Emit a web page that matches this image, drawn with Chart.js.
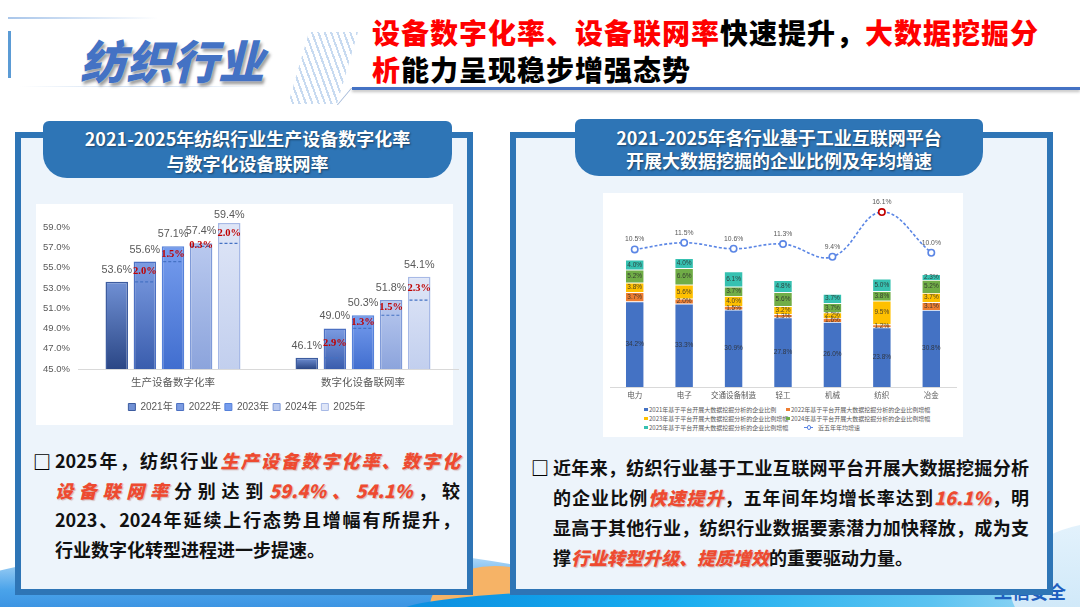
<!DOCTYPE html>
<html lang="zh-CN">
<head>
<meta charset="utf-8">
<title>纺织行业</title>
<script src="https://cdn.jsdelivr.net/npm/chart.js@4.4.1/dist/chart.umd.min.js"></script>
<style>
html,body{margin:0;padding:0;}
body{width:1080px;height:607px;overflow:hidden;position:relative;background:#fff;font-family:"Noto Sans CJK SC","Noto Sans",sans-serif;}
.abs{position:absolute;}
.title-big{font-size:46px;font-weight:900;font-style:italic;color:#4472c4;line-height:60px;white-space:nowrap;text-shadow:0 0 1px #fff,2px 3px 3px rgba(40,40,40,0.45);}
.hatch{background:repeating-linear-gradient(70deg,rgba(205,222,242,0) 0 4px,rgba(190,212,238,0.85) 4px 6px);clip-path:polygon(30% 0,100% 0,70% 100%,0 100%);}
.headline{font-size:28px;font-weight:900;line-height:37px;letter-spacing:1px;color:#000;white-space:nowrap;}
.headline .r{color:#ff0000;}
.panel{position:absolute;top:132px;height:463px;border:6px solid #2e75b6;box-sizing:border-box;background:#edf4fb;}
.tab{position:absolute;background:#2e75b6;border-radius:6px 6px 24px 24px;color:#fff;font-weight:700;font-size:18px;text-align:center;text-shadow:1px 1px 2px rgba(0,0,0,0.45);box-sizing:border-box;white-space:nowrap;}
.white{position:absolute;background:#fff;}
.bullet{position:absolute;font-size:18px;font-weight:700;color:#111;}
.bullet .ln{text-align:justify;text-align-last:justify;}
.bullet .last{text-align:left;text-align-last:left;}
.bullet .hl{color:#ee4a30;font-style:italic;font-weight:900;text-shadow:1px 1px 1px rgba(150,40,20,0.3);}
.box{position:absolute;font-size:18px;font-weight:900;color:#000;}
#rightLegend{position:absolute;left:644px;top:405px;width:310px;display:grid;grid-template-columns:142px auto;grid-auto-rows:9px;font-size:6px;color:#595959;line-height:9px;white-space:nowrap;}
.lg{display:flex;align-items:center;}
.mk-box{width:3.5px;height:3.5px;margin-right:1.5px;flex:none;}
.lg.line{padding-left:18px;}
.mk-line{width:9px;height:0;border-top:1px dashed #5b86e5;position:relative;margin-right:5px;flex:none;}
.mk-line::after{content:'';position:absolute;left:2.5px;top:-2.8px;width:2.6px;height:2.6px;border:1px solid #5b86e5;border-radius:50%;background:#fff;}
</style>
</head>
<body>

<!-- bottom background waves -->
<div class="abs" style="left:-90px;top:545px;width:720px;height:150px;border-radius:50%;background:linear-gradient(180deg,#d4ebfb 0%,#4aa3ea 30%,#1a6fd0 70%,#1560c4 100%);"></div>
<div class="abs" style="left:430px;top:566px;width:130px;height:80px;border-radius:50% 50% 0 0;background:#f6b366;"></div>
<div class="abs" style="left:400px;top:588px;width:760px;height:60px;border-radius:40% 40% 0 0;background:linear-gradient(90deg,#0c8ee0,#16acef 35%,#5cc3f1 70%,#c9e8f8);"></div>
<div class="abs" style="left:1010px;top:522px;width:200px;height:130px;border-radius:50%;background:linear-gradient(180deg,#e3f2fc,#c7e4f7);"></div>
<div class="abs" style="left:994px;top:581px;font-size:18px;font-weight:700;color:#1f5fbf;line-height:20px;">工信安全</div>

<!-- header -->
<div class="abs" style="left:8px;top:17px;width:150px;height:2px;background:linear-gradient(90deg,#a9c6ea,rgba(169,198,234,0));"></div>
<div class="abs" style="left:8px;top:31px;width:3px;height:47px;background:#5b9bd5;"></div>
<div class="abs" style="left:20px;top:86px;width:250px;height:1px;background:linear-gradient(90deg,rgba(190,210,235,0),#c5d8ef,rgba(190,210,235,0));"></div>
<div class="abs hatch" style="left:288px;top:32px;width:70px;height:72px;"></div>
<div class="abs title-big" style="left:80px;top:29px;">纺织行业</div>
<div class="abs" style="left:352px;top:87px;width:728px;height:3px;background:#4472c4;box-shadow:0 2px 3px rgba(0,0,0,0.25);"></div>
<div class="abs" style="left:344px;top:88px;width:1px;height:17px;background:#9fb5d6;transform:skewX(-40deg);"></div>
<div class="abs headline" style="left:372px;top:14px;">
  <div><span class="r">设备数字化率、设备联网率</span>快速提升，<span class="r">大数据挖掘分</span></div>
  <div><span class="r">析</span>能力呈现稳步增强态势</div>
</div>

<!-- left panel -->
<div class="panel" style="left:15px;width:458px;"></div>
<div class="tab" style="left:43px;top:121px;width:409px;height:57px;padding-top:5px;line-height:25px;">2021-2025年纺织行业生产设备数字化率<br>与数字化设备联网率</div>
<div class="white" style="left:36px;top:204px;width:417px;height:221px;"></div>
<div class="abs" style="left:36px;top:204px;width:424px;height:221px;"><canvas id="leftChart"></canvas></div>
<div class="box" style="left:33px;top:446px;line-height:30px;">□</div>
<div class="bullet" style="left:55px;top:446px;width:405px;line-height:29.5px;">
  <div class="ln">2025年，纺织行业<span class="hl">生产设备数字化率、数字化</span></div>
  <div class="ln"><span class="hl">设备联网率</span>分别达到<span class="hl">59.4%、54.1%</span>，较</div>
  <div class="ln">2023、2024年延续上行态势且增幅有所提升，</div>
  <div class="last">行业数字化转型进程进一步提速。</div>
</div>

<!-- right panel -->
<div class="panel" style="left:510px;width:543px;"></div>
<div class="tab" style="left:575px;top:119px;width:408px;height:57px;padding-top:7px;line-height:23px;">2021-2025年各行业基于工业互联网平台<br>开展大数据挖掘的企业比例及年均增速</div>
<div class="white" style="left:603px;top:193px;width:360px;height:244px;"></div>
<div class="abs" style="left:603px;top:193px;width:360px;height:210px;"><canvas id="rightChart"></canvas></div>
<div id="rightLegend"></div>
<div class="box" style="left:531px;top:452px;line-height:30px;">□</div>
<div class="bullet" style="left:553px;top:452px;width:476px;line-height:30px;">
  <div class="ln">近年来，纺织行业基于工业互联网平台开展大数据挖掘分析</div>
  <div class="ln">的企业比例<span class="hl">快速提升</span>，五年间年均增长率达到<span class="hl">16.1%</span>，明</div>
  <div class="ln">显高于其他行业，纺织行业数据要素潜力加快释放，成为支</div>
  <div class="last">撑<span class="hl">行业转型升级、提质增效</span>的重要驱动力量。</div>
</div>

<script>
// left chart data
var years = ['2021年', '2022年', '2023年', '2024年', '2025年'];
var rateNames = ['生产设备数字化率', '数字化设备联网率'];
var digitizationRate = [53.6, 55.6, 57.1, 57.4, 59.4];
var networkingRate = [46.1, 49.0, 50.3, 51.8, 54.1];
var leftTickValues = [45, 47, 49, 51, 53, 55, 57, 59];

// right chart data
var industries = ['电力', '电子', '交通设备制造', '轻工', '机械', '纺织', '冶金'];
var share2021 = [34.2, 33.3, 30.9, 27.8, 26.0, 23.8, 30.8];
var rise2022 = [3.7, 2.0, 1.5, 1.3, 1.6, 1.2, 3.1];
var rise2023 = [3.8, 5.6, 4.0, 3.2, 2.2, 9.5, 3.7];
var rise2024 = [5.2, 6.6, 3.7, 5.6, 3.7, 3.8, 5.2];
var rise2025 = [4.0, 4.0, 6.1, 4.8, 3.7, 5.0, 2.3];
var avgGrowth = [10.5, 11.5, 10.6, 11.3, 9.4, 16.1, 10.0];
var stackNames = [
  '2021年基于平台开展大数据挖掘分析的企业比例',
  '2022年基于平台开展大数据挖掘分析的企业比例增幅',
  '2023年基于平台开展大数据挖掘分析的企业比例增幅',
  '2024年基于平台开展大数据挖掘分析的企业比例增幅',
  '2025年基于平台开展大数据挖掘分析的企业比例增幅'
];
var lineName = '近五年年均增速';

// styles
var barTop = ['#7090d4', '#7c9ce2', '#769dee', '#b9c9ef', '#dfe6f7'];
var barBottom = ['#2b4786', '#3a5dad', '#416ecf', '#8ca4dc', '#c2cfee'];
var barEdge = ['#3d5c9f', '#4c70c2', '#5581da', '#7f9ad8', '#a7b9e6'];
var stackColors = ['#4472c4', '#ed7d31', '#ffc000', '#70ad47', '#36c1b1'];
var lineColor = '#5b86e5';

// ---------- left chart ----------
var barNotes = {
  id: 'barNotes',
  afterDatasetsDraw: function (chart) {
    var c = chart.ctx, ys = chart.scales.y, area = chart.chartArea;
    chart.data.datasets.forEach(function (ds, d) {
      var meta = chart.getDatasetMeta(d);
      meta.data.forEach(function (bar, i) {
        var v = ds.data[i];
        c.save();
        c.textAlign = 'center';
        c.textBaseline = 'middle';
        c.fillStyle = '#595959';
        c.font = '10.8px "Liberation Sans", sans-serif';
        c.fillText(v.toFixed(1) + '%', bar.x, Math.max(bar.y - 12, area.top - 7));
        if (d > 0) {
          var prev = chart.data.datasets[d - 1].data[i];
          var py = ys.getPixelForValue(prev);
          c.strokeStyle = '#4472c4';
          c.lineWidth = 1.2;
          c.setLineDash([3, 2]);
          c.beginPath();
          c.moveTo(bar.x - bar.width / 2 + 1.5, py);
          c.lineTo(bar.x + bar.width / 2 - 1.5, py);
          c.stroke();
          c.setLineDash([]);
          c.fillStyle = '#c00000';
          c.font = 'bold 10.5px "Liberation Serif", serif';
          c.fillText((v - prev).toFixed(1) + '%', bar.x, ys.getPixelForValue((v + prev) / 2));
        }
        c.restore();
      });
    });
  }
};

var leftSets = years.map(function (y, i) {
  return {
    label: y,
    data: [digitizationRate[i], networkingRate[i]],
    backgroundColor: function (ctx) {
      var chart = ctx.chart, area = chart.chartArea;
      if (!area || ctx.type !== 'data') return barBottom[i];
      var top = chart.scales.y.getPixelForValue(ctx.raw);
      var g = chart.ctx.createLinearGradient(0, area.bottom, 0, top);
      g.addColorStop(0, barBottom[i]);
      g.addColorStop(1, barTop[i]);
      return g;
    },
    borderColor: barEdge[i],
    borderWidth: 1.5,
    barPercentage: 0.8,
    categoryPercentage: 0.74
  };
});

new Chart(document.getElementById('leftChart'), {
  type: 'bar',
  data: { labels: rateNames, datasets: leftSets },
  options: {
    responsive: true,
    maintainAspectRatio: false,
    animation: false,
    events: [],
    layout: { padding: { top: 18, right: 2, left: 0, bottom: 3 } },
    plugins: {
      tooltip: { enabled: false },
      legend: {
        position: 'bottom',
        labels: {
          boxWidth: 7, boxHeight: 7, padding: 4, color: '#595959',
          font: { size: 10, family: '"Liberation Sans", "Noto Sans CJK SC", sans-serif' },
          generateLabels: function (chart) {
            return chart.data.datasets.map(function (ds, i) {
              return { text: ds.label, fillStyle: barTop[i], strokeStyle: barEdge[i], lineWidth: 1, datasetIndex: i, fontColor: '#595959' };
            });
          }
        }
      }
    },
    scales: {
      x: {
        grid: { display: false, drawTicks: false },
        border: { color: '#d9d9d9' },
        ticks: { color: '#595959', padding: 7, maxRotation: 0, autoSkip: false, font: { size: 10.5, family: '"Noto Sans CJK SC", sans-serif' } },
        afterFit: function (s) { s.height = 29; }
      },
      y: {
        min: 45, max: 59.5,
        grid: { display: false, drawTicks: false },
        border: { display: false },
        ticks: {
          padding: 8, color: '#595959',
          font: { size: 9.5, family: '"Liberation Sans", sans-serif' },
          callback: function (v) { return v.toFixed(1) + '%'; }
        },
        afterBuildTicks: function (s) {
          s.ticks = leftTickValues.map(function (v) { return { value: v }; });
        },
        afterFit: function (s) { s.width = 42; }
      }
    }
  },
  plugins: [barNotes]
});

// ---------- right chart ----------
var stackNotes = {
  id: 'stackNotes',
  afterDatasetsDraw: function (chart) {
    var c = chart.ctx;
    c.save();
    c.textAlign = 'center';
    c.textBaseline = 'middle';
    chart.data.datasets.forEach(function (ds, d) {
      var meta = chart.getDatasetMeta(d);
      meta.data.forEach(function (el, i) {
        var v = ds.data[i];
        if (ds.type === 'line') {
          c.font = '6.8px "Liberation Sans", sans-serif';
          c.fillStyle = '#595959';
          c.fillText(v.toFixed(1) + '%', el.x, el.y - 10);
        } else {
          c.font = '6.5px "Liberation Sans", sans-serif';
          c.fillStyle = 'rgba(45,45,45,0.85)';
          c.fillText(v.toFixed(1) + '%', el.x, (el.y + el.base) / 2);
        }
      });
    });
    c.restore();
  }
};

var htmlLegend = {
  id: 'htmlLegend',
  afterUpdate: function (chart) {
    var box = document.getElementById('rightLegend');
    box.innerHTML = '';
    chart.data.datasets.forEach(function (ds) {
      var item = document.createElement('div');
      item.className = ds.type === 'line' ? 'lg line' : 'lg';
      var mark = document.createElement('span');
      if (ds.type === 'line') {
        mark.className = 'mk-line';
      } else {
        mark.className = 'mk-box';
        mark.style.background = ds.backgroundColor;
      }
      var t = document.createElement('span');
      t.textContent = ds.label;
      item.appendChild(mark);
      item.appendChild(t);
      box.appendChild(item);
    });
  }
};

var stackData = [share2021, rise2022, rise2023, rise2024, rise2025];
var rightSets = stackData.map(function (arr, i) {
  return {
    type: 'bar',
    label: stackNames[i],
    data: arr,
    backgroundColor: stackColors[i],
    borderColor: 'rgba(255,255,255,0.9)',
    borderWidth: 0.8,
    stack: 'share',
    yAxisID: 'y',
    order: 1,
    barPercentage: 0.385,
    categoryPercentage: 1
  };
});
rightSets.push({
  type: 'line',
  label: lineName,
  data: avgGrowth,
  yAxisID: 'y2',
  order: 0,
  borderColor: lineColor,
  borderWidth: 1.6,
  borderDash: [3, 2],
  tension: 0.4,
  pointRadius: 3.2,
  pointBorderWidth: 1.6,
  pointBackgroundColor: '#fff',
  pointBorderColor: industries.map(function (n) { return n === '纺织' ? '#c00000' : lineColor; })
});

new Chart(document.getElementById('rightChart'), {
  type: 'bar',
  data: { labels: industries, datasets: rightSets },
  options: {
    responsive: true,
    maintainAspectRatio: false,
    animation: false,
    events: [],
    layout: { padding: { top: 12, left: 7, right: 7, bottom: 0 } },
    plugins: { legend: { display: false }, tooltip: { enabled: false } },
    scales: {
      x: {
        stacked: true,
        grid: { display: false, drawTicks: false },
        border: { color: '#d9d9d9' },
        ticks: { color: '#595959', padding: 4, maxRotation: 0, minRotation: 0, autoSkip: false, font: { size: 7.5, family: '"Noto Sans CJK SC", sans-serif' } },
        afterFit: function (s) { s.height = 16; }
      },
      y: { stacked: true, display: false, min: 0, max: 72.8 },
      y2: { display: false, min: -10.13, max: 17.16 }
    }
  },
  plugins: [stackNotes, htmlLegend]
});
</script>
</body>
</html>
